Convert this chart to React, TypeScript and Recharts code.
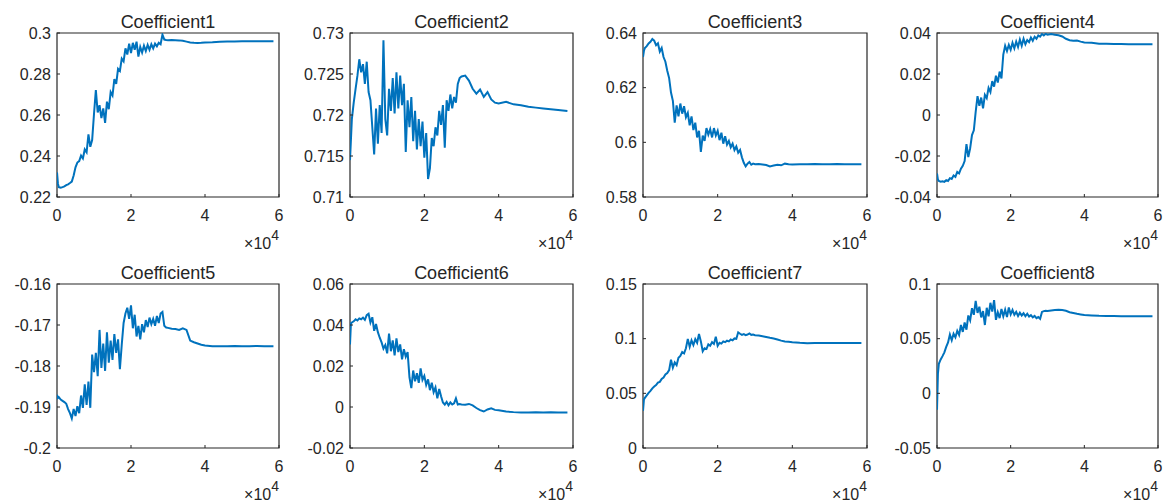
import { LineChart, Line, XAxis, YAxis, ReferenceArea } from 'recharts'

const LINE = '#0072bd'
const INK = '#262626'
const FONT = '"Liberation Sans", Arial, Helvetica, sans-serif'

// iteration at which each sample was read, shared by all eight traces
const steps = [
  0, 250, 500, 1000, 1500, 2000, 2500, 3000, 3500, 4000,
  4500, 5000, 5500, 6000, 6500, 7000, 7500, 8000, 8500, 9000,
  9500, 10000, 10500, 11000, 11500, 12000, 12500, 13000, 13500, 14000,
  14500, 15000, 15500, 16000, 16500, 17000, 17500, 18000, 18500, 19000,
  19500, 20000, 20500, 21000, 21500, 22000, 22500, 23000, 23500, 24000,
  24500, 25000, 25500, 26000, 26500, 27000, 27500, 28000, 28500, 29000,
  29500, 30000, 31000, 32000, 33000, 34000, 35000, 36000, 37000, 38000,
  39000, 40000, 42000, 44000, 46000, 48000, 50000, 52000, 54000, 56000,
  58500,
]

const coef1 = [
  0.232, 0.2265, 0.2248, 0.2245, 0.2248, 0.2252, 0.2258, 0.2262, 0.2268, 0.2275,
  0.2305, 0.2345, 0.2368, 0.2375, 0.2402, 0.2388, 0.2432, 0.2418, 0.2505, 0.2445,
  0.2478, 0.2605, 0.2722, 0.2612, 0.2648, 0.2585, 0.2632, 0.2562, 0.2665, 0.2628,
  0.2712, 0.2695, 0.2775, 0.2752, 0.2825, 0.2815, 0.2875, 0.2862, 0.2925, 0.2895,
  0.2948, 0.2902, 0.2952, 0.2918, 0.2958, 0.2885, 0.2932, 0.2905, 0.2938, 0.2912,
  0.2942, 0.2918, 0.2945, 0.2925, 0.2948, 0.2935, 0.2952, 0.2945, 0.2992, 0.2968,
  0.2966, 0.2965, 0.2966, 0.2965, 0.2964, 0.2962, 0.2958, 0.2954, 0.2952, 0.2951,
  0.2952, 0.2954, 0.2955, 0.2957, 0.2958, 0.2959, 0.296, 0.296, 0.296, 0.296,
  0.296,
]

const coef2 = [
  0.7145, 0.717, 0.7195, 0.7215, 0.7232, 0.7248, 0.7268, 0.7252, 0.7262, 0.7238,
  0.7265, 0.7228, 0.7218, 0.7185, 0.7152, 0.7208, 0.7165, 0.7212, 0.7178, 0.7291,
  0.7195, 0.7175, 0.7232, 0.7205, 0.7245, 0.7202, 0.7252, 0.7208, 0.7248, 0.7212,
  0.7238, 0.7155, 0.7218, 0.7185, 0.7222, 0.7168, 0.7205, 0.7158, 0.7195, 0.7162,
  0.7192, 0.7148, 0.7178, 0.7122, 0.7135, 0.7172, 0.7162, 0.7185, 0.7175, 0.7205,
  0.7188, 0.7212, 0.716, 0.7218, 0.7205, 0.7225, 0.7208, 0.7222, 0.7215, 0.7238,
  0.7245, 0.7247, 0.7248, 0.7242, 0.7232, 0.7226, 0.7231, 0.7222, 0.7228, 0.7219,
  0.7215, 0.7214, 0.7216, 0.7213, 0.7212, 0.721, 0.7209, 0.7208, 0.7207, 0.7206,
  0.7205,
]

const coef3 = [
  0.6312, 0.6335, 0.6345, 0.6352, 0.6362, 0.6368, 0.6378, 0.6372, 0.6355, 0.6362,
  0.6332, 0.6345, 0.6312, 0.6295, 0.6262, 0.6235, 0.6182, 0.6152, 0.6072, 0.6135,
  0.6095, 0.6142, 0.6105, 0.6132, 0.6092, 0.6108, 0.6062, 0.6095, 0.6045, 0.6072,
  0.6018, 0.6042, 0.5965, 0.6025, 0.6005, 0.6052, 0.6028, 0.6048, 0.6018, 0.6052,
  0.6025, 0.6042, 0.6008, 0.6035, 0.5995, 0.6022, 0.5992, 0.6005, 0.5982, 0.5995,
  0.5972, 0.5985, 0.5962, 0.5972, 0.5945, 0.5925, 0.5912, 0.5922, 0.5928, 0.5918,
  0.5922, 0.592, 0.5921, 0.5919, 0.5917, 0.5912, 0.5915, 0.5918, 0.5916, 0.5922,
  0.592, 0.5919, 0.592, 0.592, 0.5921, 0.592, 0.592, 0.5921, 0.592, 0.592,
  0.592,
]

const coef4 = [
  -0.0285, -0.0315, -0.0322, -0.0325, -0.0323, -0.0326, -0.0318, -0.0322, -0.0308, -0.0312,
  -0.0295, -0.0302, -0.0278, -0.0285, -0.0262, -0.0248, -0.0225, -0.0142, -0.0205, -0.0162,
  -0.0098, -0.0075, 0.0015, 0.0092, 0.0045, 0.0085, 0.0032, 0.0098, 0.0082, 0.0132,
  0.0112, 0.0165, 0.0138, 0.0192, 0.0158, 0.0212, 0.0178, 0.0295, 0.0338, 0.0312,
  0.0342, 0.0318, 0.0352, 0.0325, 0.0358, 0.0332, 0.0368, 0.0338, 0.0372, 0.0345,
  0.0365, 0.0355, 0.0378, 0.0362, 0.0382, 0.0372, 0.0388, 0.0382, 0.0395, 0.0388,
  0.0396, 0.0392, 0.0395, 0.0392, 0.0389, 0.0383, 0.0372, 0.0365, 0.0362, 0.0363,
  0.0358, 0.0354, 0.0352, 0.0348, 0.0347, 0.0346, 0.0346, 0.0345, 0.0345, 0.0345,
  0.0345,
]

const coef5 = [
  -0.187, -0.1878, -0.1876, -0.1882, -0.1885, -0.1888, -0.1892, -0.1905, -0.1915, -0.1928,
  -0.1905, -0.1922, -0.1898, -0.1915, -0.1872, -0.1902, -0.1845, -0.1895, -0.1838, -0.1902,
  -0.1772, -0.1815, -0.1768, -0.1825, -0.1712, -0.1805, -0.1745, -0.1812, -0.1718, -0.1792,
  -0.1738, -0.1785, -0.1722, -0.1768, -0.1735, -0.1808, -0.1748, -0.1695, -0.1672, -0.1658,
  -0.1685, -0.1652, -0.1708, -0.1675, -0.1728, -0.1702, -0.1735, -0.1698, -0.1718, -0.1688,
  -0.1705, -0.1682, -0.1698, -0.1685, -0.1702, -0.1678, -0.1695, -0.1672, -0.1668, -0.1702,
  -0.1706, -0.1707, -0.1709, -0.171, -0.1712, -0.1708, -0.1712, -0.1738, -0.1742, -0.1745,
  -0.1748, -0.175, -0.1752, -0.1752, -0.1752, -0.1751, -0.1752, -0.1752, -0.1751, -0.1752,
  -0.1752,
]

const coef6 = [
  0.0305, 0.0408, 0.0412, 0.0418, 0.0428, 0.0422, 0.0432, 0.0428, 0.0436, 0.0425,
  0.0448, 0.0455, 0.0412, 0.0438, 0.0372, 0.0405, 0.0365, 0.0338, 0.0315, 0.0285,
  0.0302, 0.0262, 0.0358, 0.0272, 0.0325, 0.0252, 0.0335, 0.0268, 0.0305, 0.0232,
  0.0282, 0.0245, 0.0268, 0.0145, 0.0092, 0.0178, 0.0125, 0.0165, 0.0118, 0.0188,
  0.0132, 0.0152, 0.0108, 0.0135, 0.0082, 0.0118, 0.0072, 0.0095, 0.0042, 0.0088,
  0.0052, 0.0022, 0.0012, 0.0025, 0.0008, 0.0022, 0.0012, 0.0018, 0.0042, 0.0012,
  0.0014, 0.0012, 0.0011, 0.0015, 0.0008, -0.0005, -0.0015, -0.0022, -0.0012, -0.0006,
  -0.0014, -0.0016, -0.0022, -0.0025, -0.0027, -0.0027, -0.0026, -0.0027, -0.0026, -0.0027,
  -0.0027,
]

const coef7 = [
  0.034, 0.0445, 0.0458, 0.0482, 0.0505, 0.0522, 0.0545, 0.0562, 0.0575, 0.0598,
  0.0605, 0.0632, 0.0645, 0.0672, 0.0685, 0.0712, 0.0808, 0.0735, 0.0782, 0.0758,
  0.0825, 0.0842, 0.0878, 0.0865, 0.0912, 0.0998, 0.0925, 0.0985, 0.0942, 0.0995,
  0.0962, 0.1042, 0.0975, 0.0885, 0.0912, 0.0905, 0.0948, 0.0935, 0.0968, 0.0952,
  0.1018, 0.0935, 0.0962, 0.0955, 0.0975, 0.0968, 0.0982, 0.0975, 0.0992, 0.0985,
  0.1002, 0.0998, 0.1058, 0.1045, 0.1035, 0.1042, 0.1032, 0.1038, 0.1048, 0.1035,
  0.1038, 0.1032, 0.1028, 0.1022, 0.1015, 0.1008, 0.1002, 0.0992, 0.0982, 0.0975,
  0.0972, 0.0968, 0.0962, 0.0958, 0.096, 0.096, 0.0961, 0.096, 0.096, 0.096,
  0.096,
]

const coef8 = [
  -0.015, 0.018, 0.027, 0.031, 0.034, 0.0375, 0.0425, 0.0465, 0.0538, 0.0485,
  0.0545, 0.0512, 0.0572, 0.0535, 0.0625, 0.0562, 0.0648, 0.0582, 0.0712, 0.0668,
  0.0778, 0.0718, 0.0845, 0.0735, 0.0792, 0.0695, 0.0752, 0.0625, 0.0782, 0.0705,
  0.0828, 0.0748, 0.0852, 0.0672, 0.0742, 0.0688, 0.0772, 0.0705, 0.0765, 0.0698,
  0.0785, 0.0722, 0.0762, 0.0718, 0.0745, 0.0708, 0.0738, 0.0712, 0.0732, 0.0705,
  0.0728, 0.0702, 0.0715, 0.0695, 0.0708, 0.0688, 0.0698, 0.0682, 0.0745, 0.0752,
  0.0755, 0.0754, 0.0758, 0.0762, 0.0764, 0.0762, 0.0755, 0.0742, 0.0735, 0.0728,
  0.0722, 0.0716, 0.0712, 0.0709, 0.0708, 0.0707, 0.0706, 0.0706, 0.0705, 0.0705,
  0.0705,
]

const titles = [
  'Coefficient1', 'Coefficient2', 'Coefficient3', 'Coefficient4',
  'Coefficient5', 'Coefficient6', 'Coefficient7', 'Coefficient8',
]
const series = [coef1, coef2, coef3, coef4, coef5, coef6, coef7, coef8]
const yTicks = [
  [0.22, 0.24, 0.26, 0.28, 0.3],
  [0.71, 0.715, 0.72, 0.725, 0.73],
  [0.58, 0.6, 0.62, 0.64],
  [-0.04, -0.02, 0, 0.02, 0.04],
  [-0.2, -0.19, -0.18, -0.17, -0.16],
  [-0.02, 0, 0.02, 0.04, 0.06],
  [0, 0.05, 0.1, 0.15],
  [-0.05, 0, 0.05, 0.1],
]
const xTicks = [0, 20000, 40000, 60000]

// layout of the 2x4 grid (plot-box edges in page pixels)
const plotLeft = [57, 350, 643, 937]
const plotWidth = [222, 223, 224, 221]
const rowTop = [0, 251]
const TOP = 33
const PLOT_H = 164
const AXIS_W = 57
const AXIS_H = 54
const RIGHT_PAD = 8
const TICK = 3

const fmt = (v: number) => String(parseFloat(v.toFixed(4)))

const textStyle = { fontFamily: FONT, fontSize: 16, fill: INK }

// MATLAB-style ticks: short inward marks on all four sides of the box
function BottomTick(p: any) {
  return (
    <g>
      <path d={`M${p.x},${p.y}v${-TICK}`} stroke={INK} fill="none" />
      <text x={p.x} y={p.y + 24} textAnchor="middle" {...textStyle}>
        {fmt(p.payload.value / 10000)}
      </text>
    </g>
  )
}

function TopTick(p: any) {
  return <path d={`M${p.x},${p.y}v${TICK}`} stroke={INK} fill="none" />
}

function LeftTick(p: any) {
  return (
    <g>
      <path d={`M${p.x},${p.y}h${TICK}`} stroke={INK} fill="none" />
      <text x={p.x - 6} y={p.y + 5.5} textAnchor="end" {...textStyle}>
        {fmt(p.payload.value)}
      </text>
    </g>
  )
}

function RightTick(p: any) {
  return <path d={`M${p.x},${p.y}h${-TICK}`} stroke={INK} fill="none" />
}

function Panel({ i }: { i: number }) {
  const col = i % 4
  const row = Math.floor(i / 4)
  const w = plotWidth[col]
  const ticks = yTicks[i]
  const domain = [ticks[0], ticks[ticks.length - 1]]
  const data = steps.map((x, k) => ({ x, y: series[i][k] }))

  return (
    <div style={{ position: 'absolute', left: plotLeft[col] - AXIS_W, top: rowTop[row] }}>
      <LineChart
        width={AXIS_W + w + RIGHT_PAD}
        height={TOP + PLOT_H + AXIS_H}
        data={data}
        margin={{ top: TOP, right: RIGHT_PAD, bottom: 0, left: 0 }}
      >
        <XAxis
          dataKey="x"
          type="number"
          domain={[0, 60000]}
          ticks={xTicks}
          interval={0}
          allowDataOverflow
          height={AXIS_H}
          tickSize={0}
          tickMargin={0}
          tickLine={false}
          axisLine={false}
          tick={BottomTick}
        />
        <XAxis
          xAxisId="top"
          dataKey="x"
          orientation="top"
          type="number"
          domain={[0, 60000]}
          ticks={xTicks}
          interval={0}
          allowDataOverflow
          height={0}
          tickSize={0}
          tickMargin={0}
          tickLine={false}
          axisLine={false}
          tick={TopTick}
        />
        <YAxis
          type="number"
          domain={domain}
          ticks={ticks}
          interval={0}
          allowDataOverflow
          width={AXIS_W}
          tickSize={0}
          tickMargin={0}
          tickLine={false}
          axisLine={false}
          tick={LeftTick}
        />
        <YAxis
          yAxisId="right"
          orientation="right"
          type="number"
          domain={domain}
          ticks={ticks}
          interval={0}
          allowDataOverflow
          width={0}
          tickSize={0}
          tickMargin={0}
          tickLine={false}
          axisLine={false}
          tick={RightTick}
        />
        {/* axes box */}
        <ReferenceArea
          x1={0}
          x2={60000}
          y1={domain[0]}
          y2={domain[1]}
          fill="none"
          fillOpacity={0}
          stroke={INK}
          strokeWidth={1.2}
          strokeOpacity={1}
          ifOverflow="visible"
        />
        {/* invisible copy so the top/right axes get a domain */}
        <Line
          xAxisId="top"
          yAxisId="right"
          dataKey="y"
          stroke="none"
          dot={false}
          activeDot={false}
          isAnimationActive={false}
        />
        <Line
          type="linear"
          dataKey="y"
          stroke={LINE}
          strokeWidth={2}
          dot={false}
          isAnimationActive={false}
        />
      </LineChart>
    </div>
  )
}

export default function App() {
  return (
    <div
      style={{
        position: 'absolute',
        left: 0,
        top: 0,
        width: 1164,
        height: 502,
        background: '#fff',
        overflow: 'hidden',
      }}
    >
      {titles.map((_, i) => (
        <Panel key={i} i={i} />
      ))}
      <svg
        width={1164}
        height={502}
        style={{ position: 'absolute', left: 0, top: 0, pointerEvents: 'none' }}
      >
        {titles.map((t, i) => {
          const col = i % 4
          const top = rowTop[Math.floor(i / 4)]
          const right = plotLeft[col] + plotWidth[col]
          return (
            <g key={t}>
              <text
                x={plotLeft[col] + plotWidth[col] / 2}
                y={top + 28}
                textAnchor="middle"
                fontFamily={FONT}
                fontSize={18}
                fill={INK}
              >
                {t}
              </text>
              <text x={right} y={top + 249} textAnchor="end" {...textStyle}>
                ×10
                <tspan dy={-9} fontSize={14}>
                  4
                </tspan>
              </text>
            </g>
          )
        })}
      </svg>
    </div>
  )
}
